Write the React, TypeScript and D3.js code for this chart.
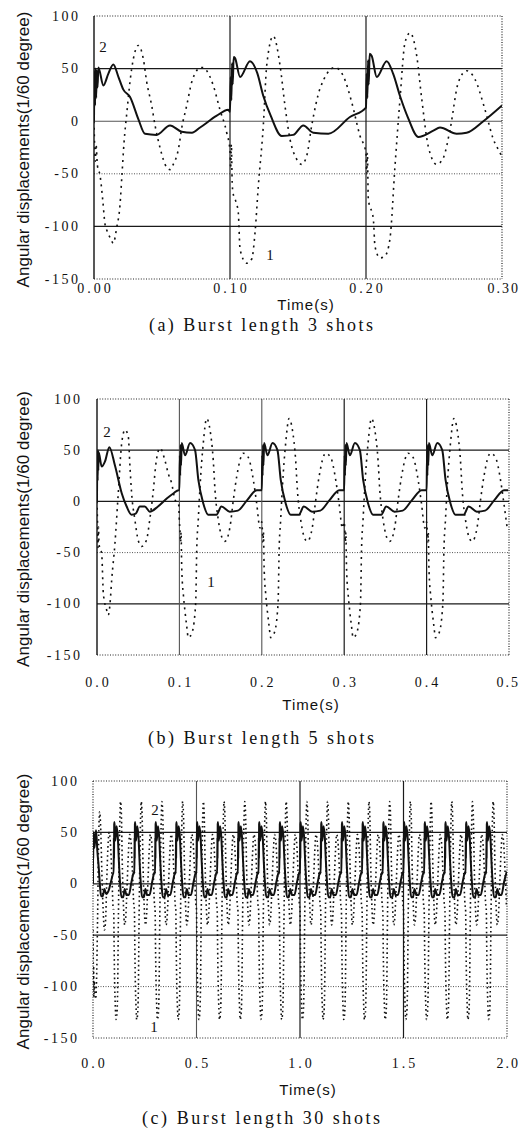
import React from 'react';
import * as d3 from 'd3';

type Pt = [number, number];

// ---------- axis ticks ----------
const yTickValues = [100, 50, 0, -50, -100, -150];
const yTickLabels = ['100', '50', '0', '-50', '-100', '-150'];

const aXTicks = [0, 0.1, 0.2, 0.3];
const aXTickLabels = ['0.00', '0.10', '0.20', '0.30'];
const bXTicks = [0, 0.1, 0.2, 0.3, 0.4, 0.5];
const bXTickLabels = ['0.0', '0.1', '0.2', '0.3', '0.4', '0.5'];
const cXTicks = [0, 0.5, 1.0, 1.5, 2.0];
const cXTickLabels = ['0.0', '0.5', '1.0', '1.5', '2.0'];

const captions = ['(a)  Burst length 3 shots', '(b)  Burst length 5 shots', '(c)  Burst length 30 shots'];
const yTitle = 'Angular displacements(1/60 degree)';
const xTitle = 'Time(s)';

// ---------- panel (a): 3 shots, read cycle by cycle ----------
const aCurve1: Pt[] = [
  [0, 0], [0.001, -38], [0.0015, -22], [0.0025, -42], [0.0045, -52], [0.0065, -76], [0.008, -97],
  [0.0095, -104], [0.012, -111], [0.0142, -116], [0.0167, -101], [0.0191, -80], [0.0206, -50],
  [0.0221, -20], [0.0243, 10], [0.0265, 38], [0.0289, 59], [0.0326, 72], [0.0363, 59], [0.0388, 37],
  [0.0424, 15], [0.0449, -4], [0.0485, -25], [0.0535, -44], [0.0559, -46], [0.0583, -41], [0.062, -27],
  [0.0647, -5], [0.0682, 15], [0.0718, 37], [0.075, 47], [0.0779, 51], [0.0804, 51], [0.0829, 48],
  [0.0877, 34], [0.0926, 11], [0.0976, -11], [0.1, -28],
  [0.1005, -45], [0.101, -22], [0.1016, -58], [0.1022, -68], [0.104, -75], [0.1061, -87], [0.1074, -122],
  [0.1123, -135], [0.116, -131], [0.1184, -106], [0.1208, -62], [0.1245, -4], [0.127, 53], [0.1318, 81],
  [0.1368, 53], [0.1404, 15], [0.1441, -17], [0.149, -36], [0.1527, -41], [0.1564, -33], [0.1601, -4],
  [0.1662, 31], [0.1772, 51], [0.1833, 43], [0.1895, 18], [0.1956, -14], [0.2, -30],
  [0.2005, -50], [0.201, -30], [0.2017, -74], [0.2054, -93], [0.2066, -119], [0.2103, -130], [0.214, -128],
  [0.2176, -112], [0.2213, -43], [0.225, 21], [0.2287, 75], [0.2324, 84], [0.2373, 62], [0.241, 21],
  [0.2458, -24], [0.252, -41], [0.2568, -35], [0.2618, -8], [0.2679, 37], [0.274, 48], [0.2801, 40],
  [0.2875, 11], [0.2936, -17], [0.2985, -30], [0.3, -34],
];
const aCurve2: Pt[] = [
  [0, 0], [0.0004, 48], [0.0008, 15], [0.0012, 50], [0.0016, 22], [0.002, 48], [0.0026, 32], [0.0032, 51],
  [0.0069, 34], [0.0105, 45], [0.0142, 54], [0.018, 42], [0.0216, 30], [0.0265, 23], [0.0326, 2],
  [0.0375, -12], [0.046, -13], [0.0559, -4], [0.0645, -10], [0.072, -11], [0.078, -6], [0.09, 5], [0.0987, 11],
  [0.1, 9], [0.1005, 42], [0.101, 20], [0.1015, 55], [0.102, 35], [0.1027, 61], [0.1037, 60], [0.1074, 42],
  [0.1147, 57], [0.12, 46], [0.1245, 24], [0.13, 5], [0.138, -14], [0.1465, -13], [0.1539, -4],
  [0.1613, -11], [0.1723, -12], [0.1882, 4], [0.2, 13],
  [0.2005, 45], [0.201, 22], [0.2015, 58], [0.202, 35], [0.2027, 64], [0.2042, 62], [0.2079, 42],
  [0.2152, 57], [0.22, 45], [0.225, 24], [0.231, 3], [0.2385, -15], [0.2495, -9], [0.2544, -6],
  [0.2667, -12], [0.274, -11], [0.2863, 0], [0.3, 15],
];

// ---------- panel (b): 5 shots, first cycle + repeating cycle ----------
const bShots = [0, 0.1, 0.2, 0.3, 0.4];
const bCurve1First: Pt[] = [
  [0, 0], [0.0006, -20], [0.0012, -45], [0.0018, -25], [0.0025, -42], [0.0057, -51], [0.0077, -90],
  [0.0117, -106], [0.0137, -111], [0.0158, -100], [0.0178, -77], [0.0218, -41], [0.0258, 8], [0.03, 57],
  [0.034, 70], [0.038, 63], [0.04, 34], [0.042, 8], [0.046, -18], [0.05, -38], [0.054, -44], [0.06, -38],
  [0.064, -18], [0.068, 8], [0.072, 40], [0.0765, 52], [0.0825, 40], [0.0865, 27], [0.0905, 18],
  [0.095, 1], [0.099, -2],
];
const bCurve1Cycle: Pt[] = [
  [0, -20], [0.0007, -28], [0.0015, -40], [0.002, -30], [0.0028, -64], [0.0035, -78], [0.0047, -90],
  [0.0089, -122], [0.0108, -133], [0.0149, -129], [0.0189, -109], [0.0201, -90], [0.021, -48],
  [0.0229, -18], [0.025, 14], [0.029, 57], [0.0331, 81], [0.0371, 70], [0.0411, 40], [0.0432, 11],
  [0.0472, -18], [0.0533, -38], [0.0553, -39], [0.0614, -25], [0.0654, 1], [0.0695, 24], [0.0775, 47],
  [0.0836, 43], [0.0897, 21], [0.0938, -2], [0.0978, -26],
];
const bCurve2First: Pt[] = [
  [0, 0], [0.0004, 48], [0.0008, 20], [0.0012, 50], [0.0016, 30], [0.002, 48], [0.0057, 34], [0.0097, 39],
  [0.015, 53], [0.0218, 35], [0.03, 8], [0.036, -5], [0.042, -13], [0.047, -12], [0.052, -5], [0.058, -5],
  [0.064, -10], [0.074, -5], [0.085, 3], [0.093, 8], [0.099, 11],
];
const bCurve2Cycle: Pt[] = [
  [0, 11], [0.0005, 45], [0.001, 25], [0.0015, 55], [0.002, 35], [0.0028, 57], [0.0068, 45], [0.013, 57],
  [0.019, 50], [0.023, 21], [0.029, -2], [0.035, -13], [0.045, -13], [0.051, -5], [0.061, -10],
  [0.071, -9], [0.082, 1], [0.094, 11], [0.099, 11],
];

// ---------- panel (c): 30-shot burst, 20 shots visible ----------
const cShots = [0, 0.1, 0.2, 0.3, 0.4, 0.5, 0.6, 0.7, 0.8, 0.9, 1.0, 1.1, 1.2, 1.3, 1.4, 1.5, 1.6, 1.7, 1.8, 1.9];
const cCurve1First: Pt[] = [
  [0, -45], [0.001, -60], [0.002, -100], [0.003, -80], [0.004, -110], [0.006, -95], [0.009, -105],
  [0.013, -112], [0.017, -95], [0.022, -35], [0.027, 40], [0.032, 70], [0.037, 55], [0.043, 10],
  [0.049, -25], [0.055, -45], [0.061, -35], [0.066, 0], [0.072, 35], [0.078, 50], [0.084, 40],
  [0.091, 10], [0.098, -25],
];
const cCurve1Cycle: Pt[] = [
  [0, -25], [0.002, -60], [0.004, -90], [0.008, -120], [0.011, -132], [0.015, -128], [0.019, -105],
  [0.022, -45], [0.026, 20], [0.03, 65], [0.033, 80], [0.037, 68], [0.042, 15], [0.047, -20],
  [0.053, -40], [0.059, -30], [0.065, 0], [0.071, 30], [0.077, 48], [0.083, 42], [0.09, 15], [0.097, -20],
];
const cCurve2First: Pt[] = [
  [0, 0], [0.0005, 50], [0.001, 25], [0.0015, 48], [0.003, 50], [0.007, 35], [0.011, 45], [0.015, 52],
  [0.021, 32], [0.028, 15], [0.034, -3], [0.039, -12], [0.047, -12], [0.055, -5], [0.064, -10],
  [0.075, -7], [0.088, 3], [0.098, 10],
];
const cCurve2Cycle: Pt[] = [
  [0, 10], [0.0008, 45], [0.0015, 25], [0.0025, 58], [0.004, 60], [0.008, 42], [0.014, 56], [0.02, 45],
  [0.025, 22], [0.031, 0], [0.037, -13], [0.046, -13], [0.053, -5], [0.062, -11], [0.073, -11],
  [0.086, 2], [0.099, 12],
];

function buildSeries(shots: number[], first: Pt[], cycle: Pt[]): Pt[] {
  const out: Pt[] = [];
  shots.forEach((s, i) => {
    (i === 0 ? first : cycle).forEach(([t, v]) => out.push([s + t, v]));
  });
  return out;
}

type GridStyle = 'solid' | 'dark' | 'gray' | 'dot';

interface PanelCfg {
  id: string;
  left: number; right: number; top: number; bottom: number;
  xMax: number;
  xTicks: number[]; xTickLabels: string[];
  curve1: Pt[]; curve2: Pt[];
  hGrid: Record<string, GridStyle>;
  vGrid: GridStyle[];
  leftSolid: boolean;
  yLabelRight: number;
  xLabelY: number; xTitleY: number; captionY: number;
  caption: string; captionLen: number;
  label2: [number, number]; label1: [number, number];
  dash: string;
}

const panels: PanelCfg[] = [
  {
    id: 'a', left: 94, right: 502, top: 16, bottom: 279, xMax: 0.3,
    xTicks: aXTicks, xTickLabels: aXTickLabels, curve1: aCurve1, curve2: aCurve2,
    hGrid: { '50': 'dark', '0': 'gray', '-50': 'dot', '-100': 'dark' },
    vGrid: ['dark', 'dark'], leftSolid: true, yLabelRight: 78,
    xLabelY: 293, xTitleY: 310, captionY: 331, caption: captions[0], captionLen: 224,
    label2: [103, 47], label1: [270, 255], dash: '2 4.5',
  },
  {
    id: 'b', left: 97, right: 509, top: 399, bottom: 655, xMax: 0.5,
    xTicks: bXTicks, xTickLabels: bXTickLabels, curve1: buildSeries(bShots, bCurve1First, bCurve1Cycle),
    curve2: buildSeries(bShots, bCurve2First, bCurve2Cycle),
    hGrid: { '50': 'dark', '0': 'dark', '-50': 'dot', '-100': 'dark' },
    vGrid: ['gray', 'gray', 'dark', 'dark'], leftSolid: true, yLabelRight: 80,
    xLabelY: 687, xTitleY: 710, captionY: 744, caption: captions[1], captionLen: 226,
    label2: [107, 432], label1: [211, 582], dash: '2 4.5',
  },
  {
    id: 'c', left: 93, right: 507, top: 781, bottom: 1038, xMax: 2.0,
    xTicks: cXTicks, xTickLabels: cXTickLabels, curve1: buildSeries(cShots, cCurve1First, cCurve1Cycle),
    curve2: buildSeries(cShots, cCurve2First, cCurve2Cycle),
    hGrid: { '50': 'dark', '0': 'dark', '-50': 'dark', '-100': 'dot' },
    vGrid: ['gray', 'dark', 'dark'], leftSolid: false, yLabelRight: 77,
    xLabelY: 1068, xTitleY: 1095, captionY: 1124, caption: captions[2], captionLen: 238,
    label2: [155, 810], label1: [154, 1027], dash: '1.6 3',
  },
];

const INK = '#111';
const SVG_W = 521;

function gridProps(s: GridStyle) {
  if (s === 'dot') return { stroke: '#555', strokeWidth: 1, strokeDasharray: '1 1.5' };
  if (s === 'gray') return { stroke: '#555', strokeWidth: 1.1 };
  return { stroke: '#1a1a1a', strokeWidth: 1.2 };
}

function Panel({ p }: { p: PanelCfg }) {
  const x = d3.scaleLinear().domain([0, p.xMax]).range([p.left, p.right]);
  const y = d3.scaleLinear().domain([-150, 100]).range([p.bottom, p.top]);
  const line = d3.line<Pt>().x((d) => x(d[0])).y((d) => y(d[1])).curve(d3.curveMonotoneX);
  const clipId = `clip-${p.id}`;
  const cy = (p.top + p.bottom) / 2 + 2;
  const cx = (p.left + p.right) / 2;
  const frame = { stroke: '#222', strokeWidth: 1.2, strokeDasharray: '1 1.6' };
  return (
    <g>
      <defs>
        <clipPath id={clipId}>
          <rect x={p.left} y={p.top} width={p.right - p.left} height={p.bottom - p.top} />
        </clipPath>
      </defs>
      {/* horizontal gridlines */}
      {yTickValues.filter((v) => v !== 100 && v !== -150).map((v) => (
        <line key={`h${v}`} x1={p.left} x2={p.right} y1={y(v)} y2={y(v)} {...gridProps(p.hGrid[String(v)])} />
      ))}
      {/* vertical gridlines */}
      {p.xTicks.slice(1, -1).map((t, i) => (
        <line key={`v${t}`} x1={x(t)} x2={x(t)} y1={p.top} y2={p.bottom} {...gridProps(p.vGrid[i])} />
      ))}
      {/* frame */}
      <line x1={p.left} x2={p.right} y1={p.top} y2={p.top} {...frame} />
      <line x1={p.left} x2={p.right} y1={p.bottom} y2={p.bottom} {...frame} />
      <line x1={p.right} x2={p.right} y1={p.top} y2={p.bottom} {...frame} />
      {p.leftSolid ? (
        <line x1={p.left} x2={p.left} y1={p.top} y2={p.bottom} stroke={INK} strokeWidth={1.4} />
      ) : (
        <line x1={p.left} x2={p.left} y1={p.top} y2={p.bottom} {...frame} />
      )}
      {/* curves */}
      <g clipPath={`url(#${clipId})`}>
        <path d={line(p.curve1) || ''} fill="none" stroke={INK} strokeWidth={1.6} strokeDasharray={p.dash} />
        <path d={line(p.curve2) || ''} fill="none" stroke={INK} strokeWidth={2} strokeLinejoin="round" />
      </g>
      {/* curve labels */}
      <text x={p.label2[0]} y={p.label2[1]} textAnchor="middle" dominantBaseline="central"
        fontFamily="'Liberation Serif', serif" fontSize={15} fill={INK}>2</text>
      <text x={p.label1[0]} y={p.label1[1]} textAnchor="middle" dominantBaseline="central"
        fontFamily="'Liberation Serif', serif" fontSize={15} fill={INK}>1</text>
      {/* y tick labels */}
      {yTickValues.map((v, i) => (
        <text key={`yl${v}`} x={p.yLabelRight + 2.5} y={y(v)} textAnchor="end" dominantBaseline="central"
          fontFamily="'Liberation Serif', serif" fontSize={14} letterSpacing={2.5} fill={INK}>
          {yTickLabels[i]}
        </text>
      ))}
      {/* x tick labels */}
      {p.xTicks.map((t, i) => {
        const label = p.xTickLabels[i];
        const approxW = label.length * 10;
        const overflow = x(t) + approxW / 2 > SVG_W - 2;
        return (
          <text key={`xl${t}`} x={overflow ? SVG_W - 1 : x(t) + 1.5} y={p.xLabelY}
            textAnchor={overflow ? 'end' : 'middle'}
            fontFamily="'Liberation Serif', serif" fontSize={14} letterSpacing={overflow ? 2 : 3} fill={INK}>
            {label}
          </text>
        );
      })}
      {/* axis titles */}
      <text transform={`translate(29,${cy}) rotate(-90)`} textAnchor="middle"
        fontFamily="'Liberation Sans', Arial, sans-serif" fontSize={17} textLength={276}
        lengthAdjust="spacing" fill={INK}>
        {yTitle}
      </text>
      <text x={cx + 8} y={p.xTitleY} textAnchor="middle" fontFamily="'Liberation Sans', Arial, sans-serif"
        fontSize={15} letterSpacing={1} fill={INK}>
        {xTitle}
      </text>
      {/* caption */}
      <text x={261} y={p.captionY} textAnchor="middle" fontFamily="'Liberation Serif', serif" fontSize={18}
        textLength={p.captionLen} lengthAdjust="spacing" fill={INK}>
        {p.caption}
      </text>
    </g>
  );
}

export default function App() {
  return (
    <svg width={521} height={1136} viewBox="0 0 521 1136"
      style={{ position: 'absolute', left: 0, top: 0, background: '#fff' }}>
      <rect x={0} y={0} width={521} height={1136} fill="#fff" />
      {panels.map((p) => (
        <Panel key={p.id} p={p} />
      ))}
    </svg>
  );
}
